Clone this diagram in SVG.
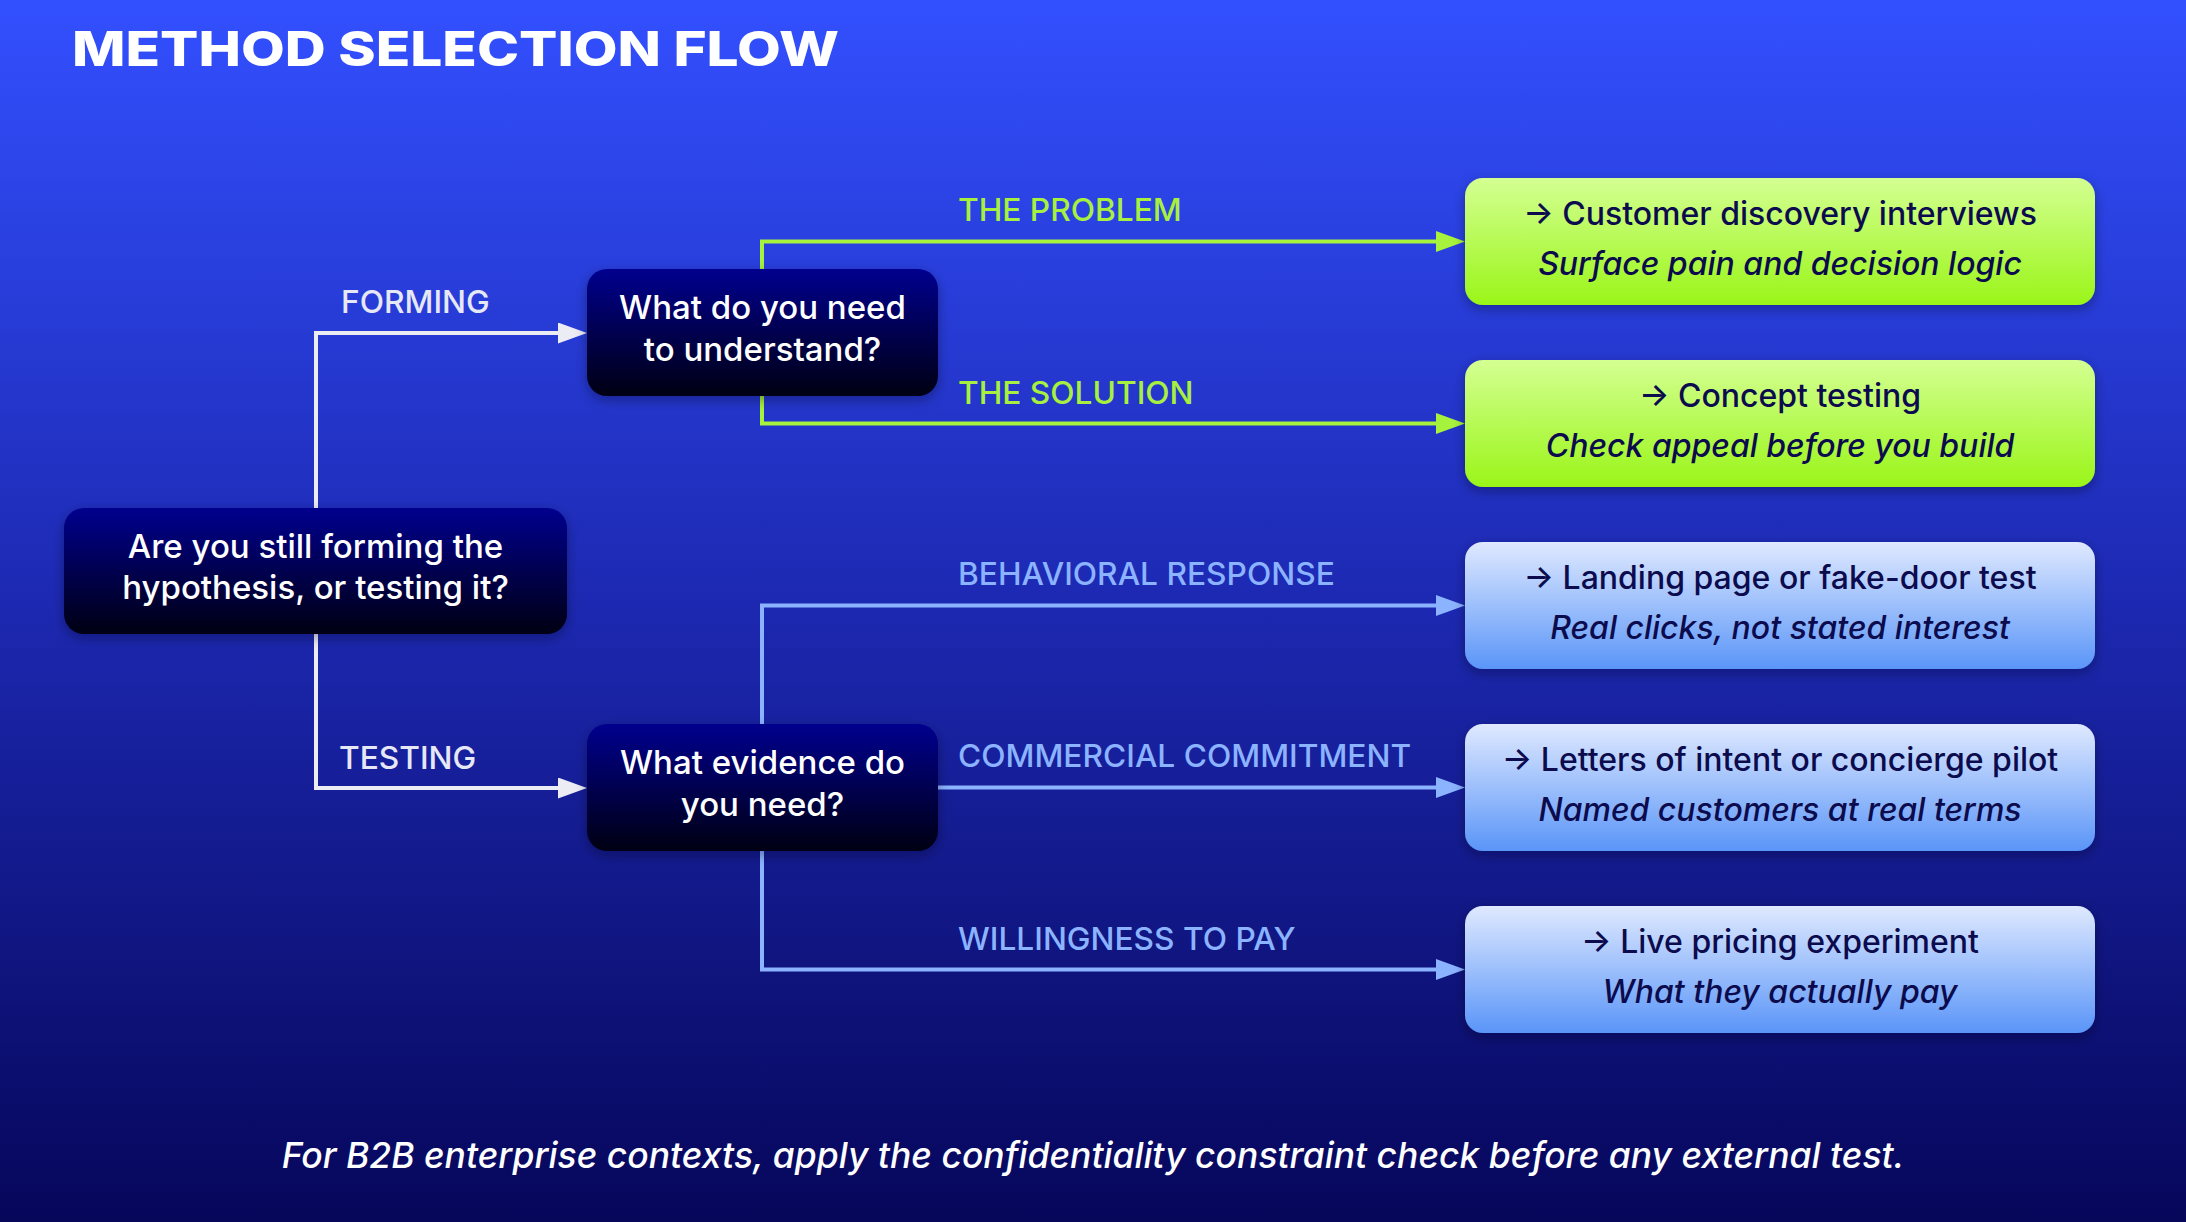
<svg xmlns="http://www.w3.org/2000/svg" width="2186" height="1222" viewBox="0 0 2186 1222">
  <defs>
    <linearGradient id="bg" x1="0" y1="0" x2="0" y2="1">
      <stop offset="0" stop-color="#3350ff"/>
      <stop offset="0.5" stop-color="#1c28b0"/>
      <stop offset="1" stop-color="#06065a"/>
    </linearGradient>
    <linearGradient id="dark" x1="0" y1="0" x2="0" y2="1">
      <stop offset="0" stop-color="#00008e"/>
      <stop offset="1" stop-color="#000012"/>
    </linearGradient>
    <linearGradient id="green" x1="0" y1="0" x2="0" y2="1">
      <stop offset="0" stop-color="#d4ff92"/>
      <stop offset="1" stop-color="#9af518"/>
    </linearGradient>
    <linearGradient id="blue" x1="0" y1="0" x2="0" y2="1">
      <stop offset="0" stop-color="#dfe9ff"/>
      <stop offset="1" stop-color="#5a95f8"/>
    </linearGradient>
    <filter id="shadow" x="-10%" y="-20%" width="120%" height="150%">
      <feDropShadow dx="0" dy="4" stdDeviation="6" flood-color="#000020" flood-opacity="0.35"/>
    </filter>
    <marker id="arrW" markerUnits="userSpaceOnUse" markerWidth="30" markerHeight="22" refX="4" refY="10.5" orient="auto">
      <path d="M0,0 L29,10.5 L0,21 Z" fill="#ececf5"/>
    </marker>
    <marker id="arrG" markerUnits="userSpaceOnUse" markerWidth="30" markerHeight="22" refX="4" refY="10.5" orient="auto">
      <path d="M0,0 L29,10.5 L0,21 Z" fill="#a6f23c"/>
    </marker>
    <marker id="arrB" markerUnits="userSpaceOnUse" markerWidth="30" markerHeight="22" refX="4" refY="10.5" orient="auto">
      <path d="M0,0 L29,10.5 L0,21 Z" fill="#8cb3ff"/>
    </marker>
    <style>
      .q { font-family: Inter, "Noto Sans", "Liberation Sans", sans-serif; font-size: 33px; font-weight: 500; fill: #ffffff; text-anchor: middle; }
      .r1 { font-family: Inter, "Noto Sans", "Liberation Sans", sans-serif; font-size: 32px; font-weight: 500; fill: #0b0b4d; text-anchor: middle; }
      .r2 { font-family: Inter, "Noto Sans", "Liberation Sans", sans-serif; font-size: 32px; font-weight: 500; font-style: italic; fill: #0b0b4d; text-anchor: middle; }
      .lbl { font-family: Inter, "Noto Sans", "Liberation Sans", sans-serif; font-size: 31.7px; font-weight: 500; }
      .lw { fill: #e6e8f6; }
      .lg { fill: #a8f040; }
      .lb { fill: #8cb3ff; }
      .cw { fill: none; stroke: #ececf5; stroke-width: 4; marker-end: url(#arrW); }
      .cg { fill: none; stroke: #a6f23c; stroke-width: 4; marker-end: url(#arrG); }
      .cb { fill: none; stroke: #8cb3ff; stroke-width: 4; marker-end: url(#arrB); }
    </style>
  </defs>

  <rect x="0" y="0" width="2186" height="1222" fill="url(#bg)"/>

  <text x="72" y="66" font-family="Inter, 'Liberation Sans', sans-serif" font-size="48" font-weight="800" fill="#ffffff" textLength="767" lengthAdjust="spacingAndGlyphs">METHOD SELECTION FLOW</text>

  <g id="connectors">
    <path class="cw" d="M316,508 V333 H562"/>
    <path class="cw" d="M316,634 V788 H562"/>
    <path class="cg" d="M762,269 V241.5 H1440"/>
    <path class="cg" d="M762,396 V423.5 H1440"/>
    <path class="cb" d="M762,724 V605.5 H1440"/>
    <path class="cb" d="M938,787.5 H1440"/>
    <path class="cb" d="M762,851 V969.5 H1440"/>
    <text class="lbl lw" x="341" y="313">FORMING</text>
    <text class="lbl lw" x="339" y="769">TESTING</text>
    <text class="lbl lg" x="958" y="221">THE PROBLEM</text>
    <text class="lbl lg" x="958" y="404">THE SOLUTION</text>
    <text class="lbl lb" x="958" y="585">BEHAVIORAL RESPONSE</text>
    <text class="lbl lb" x="958" y="767">COMMERCIAL COMMITMENT</text>
    <text class="lbl lb" x="958" y="950">WILLINGNESS TO PAY</text>
  </g>

  <g id="root">
    <rect x="64" y="508" width="503" height="126" rx="20" fill="url(#dark)" filter="url(#shadow)"/>
    <text class="q" x="315.5" y="558">Are you still forming the</text>
    <text class="q" x="315.5" y="599">hypothesis, or testing it?</text>
  </g>

  <g id="understand">
    <rect x="587" y="269" width="351" height="127" rx="20" fill="url(#dark)" filter="url(#shadow)"/>
    <text class="q" x="762.5" y="319">What do you need</text>
    <text class="q" x="762.5" y="361">to understand?</text>
  </g>

  <g id="evidence">
    <rect x="587" y="724" width="351" height="127" rx="20" fill="url(#dark)" filter="url(#shadow)"/>
    <text class="q" x="762.5" y="774">What evidence do</text>
    <text class="q" x="762.5" y="816">you need?</text>
  </g>

  <g id="interviews">
    <rect x="1465" y="178" width="630" height="127" rx="18" fill="url(#green)" filter="url(#shadow)"/>
    <text class="r1" x="1780" y="225">→ Customer discovery interviews</text>
    <text class="r2" x="1780" y="274.5">Surface pain and decision logic</text>
  </g>

  <g id="concept">
    <rect x="1465" y="360" width="630" height="127" rx="18" fill="url(#green)" filter="url(#shadow)"/>
    <text class="r1" x="1780" y="407">→ Concept testing</text>
    <text class="r2" x="1780" y="456.5">Check appeal before you build</text>
  </g>

  <g id="landing">
    <rect x="1465" y="542" width="630" height="127" rx="18" fill="url(#blue)" filter="url(#shadow)"/>
    <text class="r1" x="1780" y="589">→ Landing page or fake-door test</text>
    <text class="r2" x="1780" y="638.5">Real clicks, not stated interest</text>
  </g>

  <g id="loi">
    <rect x="1465" y="724" width="630" height="127" rx="18" fill="url(#blue)" filter="url(#shadow)"/>
    <text class="r1" x="1780" y="771">→ Letters of intent or concierge pilot</text>
    <text class="r2" x="1780" y="820.5">Named customers at real terms</text>
  </g>

  <g id="pricing">
    <rect x="1465" y="906" width="630" height="127" rx="18" fill="url(#blue)" filter="url(#shadow)"/>
    <text class="r1" x="1780" y="953">→ Live pricing experiment</text>
    <text class="r2" x="1780" y="1002.5">What they actually pay</text>
  </g>

  <text x="1093" y="1168" font-family="Inter, 'Noto Sans', 'Liberation Sans', sans-serif" font-size="35.5" font-weight="500" font-style="italic" fill="#ffffff" text-anchor="middle">For B2B enterprise contexts, apply the confidentiality constraint check before any external test.</text>
</svg>
